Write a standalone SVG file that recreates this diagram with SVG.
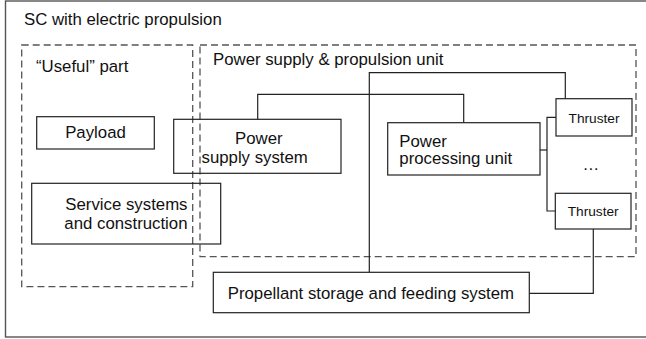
<svg xmlns="http://www.w3.org/2000/svg" width="646" height="339" viewBox="0 0 646 339">
<style>
.t{font-family:"Liberation Sans",Arial,sans-serif;font-size:16.8px;fill:#111}
.s{font-size:13.7px}
.box{fill:none;stroke:#222;stroke-width:1.2}
.dash{fill:none;stroke:#555;stroke-width:1.3;stroke-dasharray:7 4}
.frame{fill:none;stroke:#555;stroke-width:1.4}
.c{fill:none;stroke:#222;stroke-width:1.2}
</style>
<rect width="646" height="339" fill="#fff"/>
<g id="sc">
<rect class="frame" x="5.5" y="1" width="642" height="336"/>
<text class="t" x="24" y="25">SC with electric propulsion</text>
</g>
<g id="useful">
<rect class="dash" x="21.7" y="45" width="171" height="241.7"/>
<text class="t" x="36" y="71.5">“Useful” part</text>
</g>
<g id="psu">
<rect class="dash" x="200" y="45" width="436" height="211.7"/>
<text class="t" x="213" y="65">Power supply &amp; propulsion unit</text>
</g>
<g id="connectors">
<polyline class="c" points="257.7,119.3 257.7,94.3 463.7,94.3 463.7,122.7"/>
<polyline class="c" points="565.3,98.7 565.3,72.7 369.3,72.7 369.3,272.3"/>
<polyline class="c" points="540,150 547,150"/>
<polyline class="c" points="556,117.3 547,117.3 547,211 555.3,211"/>
<polyline class="c" points="593.3,229 593.3,293.3 529.3,293.3"/>
</g>
<g id="payload">
<rect class="box" x="36.7" y="116.7" width="117.6" height="32.3"/>
<text class="t" x="95.5" y="138" text-anchor="middle">Payload</text>
</g>
<g id="service">
<rect class="box" x="31.7" y="183.3" width="189" height="60.7"/>
<text class="t" x="187.5" y="210" text-anchor="end">Service systems</text>
<text class="t" x="187.5" y="229.3" text-anchor="end">and construction</text>
</g>
<g id="pss">
<rect class="box" x="173.7" y="119.3" width="167.3" height="54"/>
<text class="t" x="235" y="144">Power</text>
<text class="t" x="201.5" y="163">supply system</text>
</g>
<g id="ppu">
<rect class="box" x="387.7" y="122.7" width="152.3" height="52.3"/>
<text class="t" x="399.3" y="146.5">Power</text>
<text class="t" x="399.3" y="164">processing unit</text>
</g>
<g id="thruster1">
<rect class="box" x="556" y="98.7" width="76" height="37.3"/>
<text class="t s" x="594" y="122.7" text-anchor="middle">Thruster</text>
</g>
<g id="dots">
<text class="t" x="591" y="170" text-anchor="middle">…</text>
</g>
<g id="thruster2">
<rect class="box" x="555.3" y="193.3" width="75.7" height="35.7"/>
<text class="t s" x="593.2" y="216" text-anchor="middle">Thruster</text>
</g>
<g id="propellant">
<rect class="box" x="213.3" y="272.3" width="316" height="40.4"/>
<text class="t" x="227.7" y="299">Propellant storage and feeding system</text>
</g>
</svg>
